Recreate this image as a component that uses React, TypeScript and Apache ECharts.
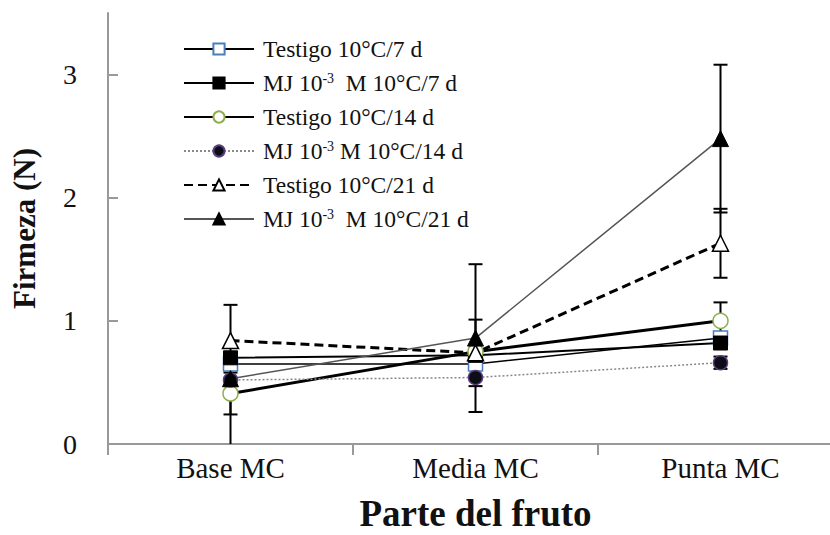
import React, { useEffect, useRef } from "react";
import * as echarts from "echarts";

const categories = ["Base MC", "Media MC", "Punta MC"];
const yTicks = [0, 1, 2, 3];
const seriesNames = [
  "Testigo 10°C/7 d",
  "MJ 10-3  M 10°C/7 d",
  "Testigo 10°C/14 d",
  "MJ 10-3 M 10°C/14 d",
  "Testigo 10°C/21 d",
  "MJ 10-3  M 10°C/21 d",
];
const testigo7 = [0.65, 0.65, 0.86];
const mj7 = [0.7, 0.72, 0.82];
const testigo14 = [0.41, 0.75, 1.0];
const mj14 = [0.52, 0.54, 0.66];
const testigo21 = [0.84, 0.74, 1.63];
const mj21 = [0.53, 0.86, 2.48];
const errTestigo14 = [0.17, null, 0.15];
const errMj14 = [null, null, 0.05];
const errTestigo21 = [null, 0.27, 0.28];
const errMj21 = [0.6, 0.6, 0.6];

const FONT = "'Liberation Serif', 'Times New Roman', serif";

function errData(vals: number[], errs: (number | null)[]) {
  const out: number[][] = [];
  errs.forEach((e, i) => {
    if (e != null) out.push([i, vals[i] - e, vals[i] + e]);
  });
  return out;
}

function errSeries(vals: number[], errs: (number | null)[]) {
  return {
    type: "custom",
    clip: true,
    z: 1,
    silent: true,
    data: errData(vals, errs),
    renderItem: (_params: any, api: any) => {
      const x = api.value(0);
      const lo = api.coord([x, api.value(1)]);
      const hi = api.coord([x, api.value(2)]);
      const w = 7;
      const st = { stroke: "#000", lineWidth: 2 };
      return {
        type: "group",
        children: [
          { type: "line", shape: { x1: lo[0], y1: lo[1], x2: hi[0], y2: hi[1] }, style: st },
          { type: "line", shape: { x1: hi[0] - w, y1: hi[1], x2: hi[0] + w, y2: hi[1] }, style: st },
          { type: "line", shape: { x1: lo[0] - w, y1: lo[1], x2: lo[0] + w, y2: lo[1] }, style: st },
        ],
      };
    },
  };
}

export default function App() {
  const ref = useRef<HTMLDivElement>(null);
  useEffect(() => {
    document.body.style.margin = "0";
    const chart = echarts.init(ref.current!, null, { renderer: "svg" });
    const lineSeries = (
      name: string,
      data: number[],
      symbol: string,
      symbolSize: number,
      itemStyle: any,
      lineStyle: any
    ) => ({
      type: "line",
      name,
      data,
      symbol,
      symbolSize,
      showAllSymbol: true,
      itemStyle,
      lineStyle,
      z: 3,
    });
    chart.setOption({
      animation: false,
      backgroundColor: "#fff",
      grid: { left: 108, top: 13, width: 735, height: 431, outerBoundsMode: "none", containLabel: false },
      legend: {
        orient: "vertical",
        left: 178,
        top: 32,
        itemWidth: 70,
        itemHeight: 14,
        itemGap: 10,
        data: seriesNames,
        textStyle: {
          fontFamily: FONT,
          fontSize: 23.5,
          color: "#111",
          lineHeight: 24,
          padding: [0, 0, 0, 4],
          rich: {
            sup: { fontFamily: FONT, fontSize: 14, color: "#111", padding: [0, 0, 10, 0] },
          },
        },
        formatter: (name: string) => name.replace("10-3", "10{sup|-3}"),
      },
      xAxis: {
        type: "category",
        data: categories,
        boundaryGap: true,
        axisLine: { lineStyle: { color: "#999", width: 2 } },
        axisTick: { show: true, inside: false, length: 11, lineStyle: { color: "#999", width: 2 } },
        axisLabel: { fontFamily: FONT, fontSize: 29, color: "#111", margin: 9 },
        name: "Parte del fruto",
        nameLocation: "middle",
        nameGap: 51,
        nameTextStyle: { fontFamily: FONT, fontSize: 37, fontWeight: "bold", color: "#111" },
      },
      yAxis: {
        type: "value",
        min: 0,
        max: 3.5,
        interval: 1,
        splitLine: { show: false },
        axisLine: { show: true, lineStyle: { color: "#999", width: 2 } },
        axisTick: { show: true, inside: true, length: 10, customValues: yTicks, lineStyle: { color: "#999", width: 2 } },
        axisLabel: { fontFamily: FONT, fontSize: 28, color: "#111", margin: 31, customValues: yTicks },
        name: "Firmeza (N)",
        nameLocation: "middle",
        nameGap: 68,
        nameTextStyle: { fontFamily: FONT, fontSize: 31, fontWeight: "bold", color: "#111" },
      },
      series: [
        errSeries(testigo14, errTestigo14),
        errSeries(mj14, errMj14),
        errSeries(testigo21, errTestigo21),
        errSeries(mj21, errMj21),
        lineSeries(seriesNames[0], testigo7, "rect", 14,
          { color: "#fff", borderColor: "#4a7ebb", borderWidth: 1.5 },
          { color: "#000", width: 1.5 }),
        lineSeries(seriesNames[1], mj7, "rect", 14,
          { color: "#000", borderColor: "#000", borderWidth: 1 },
          { color: "#000", width: 2 }),
        lineSeries(seriesNames[2], testigo14, "circle", 15,
          { color: "#fff", borderColor: "#8faf4f", borderWidth: 1.5 },
          { color: "#000", width: 3 }),
        lineSeries(seriesNames[3], mj14, "circle", 14,
          { color: "#0d0d1a", borderColor: "#5a3f7a", borderWidth: 1.5 },
          { color: "#888", width: 1.5, type: [2, 2] }),
        lineSeries(seriesNames[4], testigo21, "triangle", 16,
          { color: "#fff", borderColor: "#000", borderWidth: 1.5 },
          { color: "#000", width: 3, type: [9, 5] }),
        lineSeries(seriesNames[5], mj21, "triangle", 16,
          { color: "#000", borderColor: "#000", borderWidth: 1 },
          { color: "#555", width: 1.5 }),
      ],
    });
    return () => chart.dispose();
  }, []);
  return <div ref={ref} style={{ width: 830, height: 535 }} />;
}
